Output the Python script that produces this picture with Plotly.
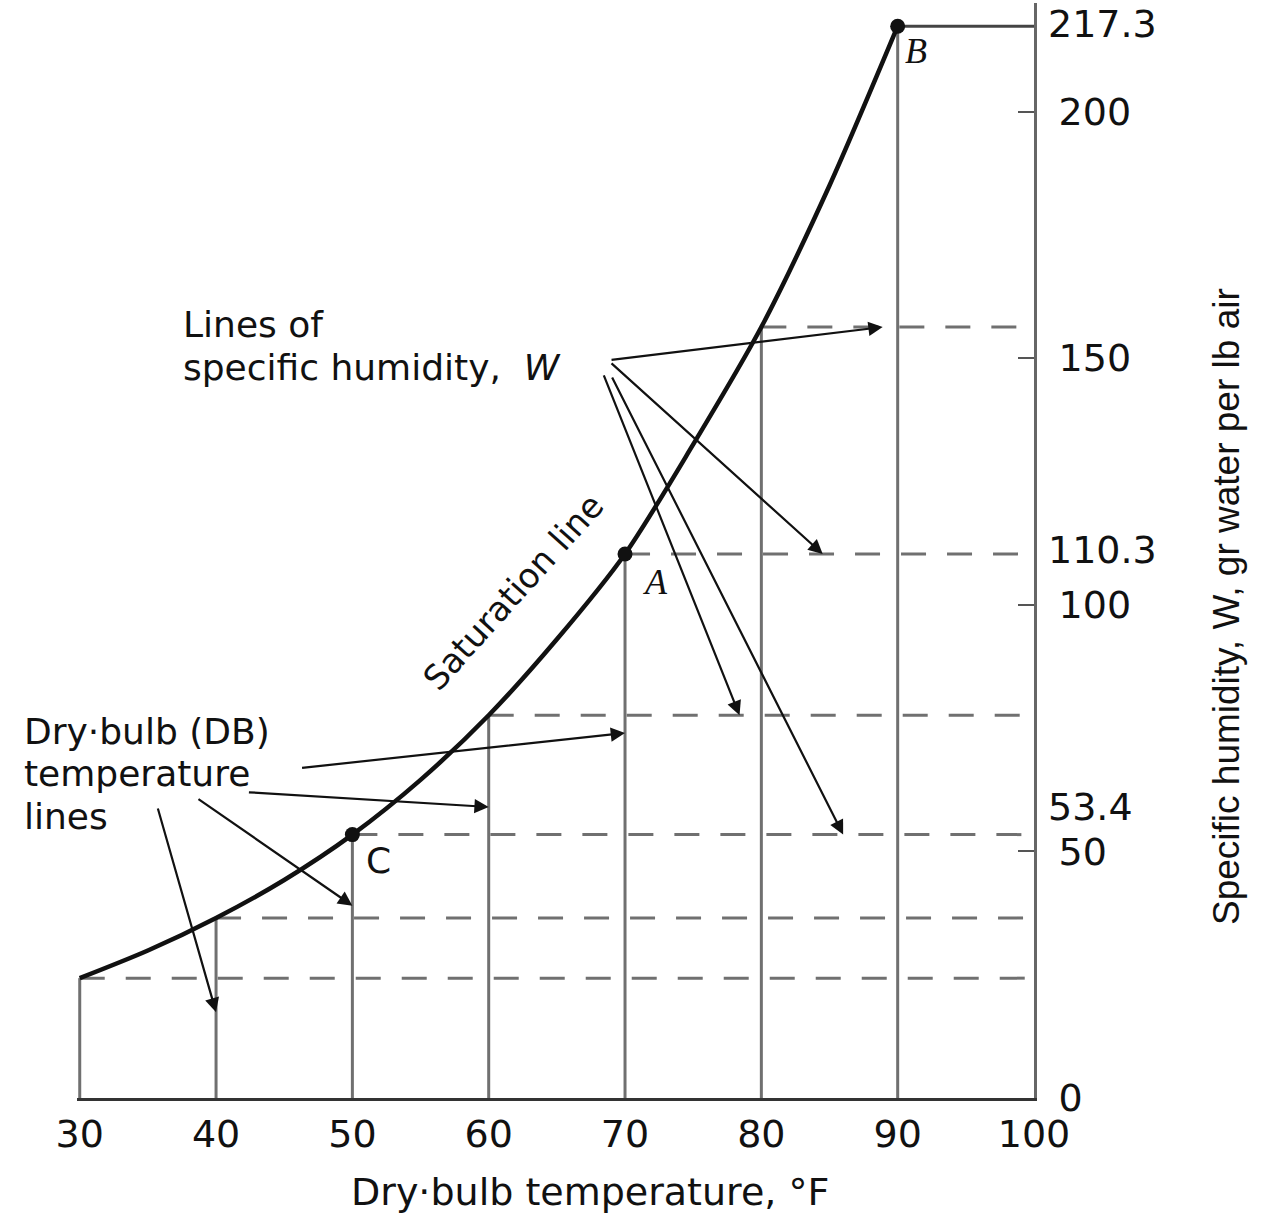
import plotly.graph_objects as go

# ---------------- data ----------------
temps_curve = [30, 35, 40, 45, 50, 55, 60, 65, 70, 75, 80, 85, 90]
w_curve = [24.3, 29.9, 36.5, 44.2, 53.4, 64.5, 77.6, 93.0, 110.3, 132.5, 156.3, 185.0, 217.3]

db_temps = [30, 40, 50, 60, 70, 80, 90]
db_w = [24.3, 36.5, 53.4, 77.6, 110.3, 156.3, 217.3]

point_names = ["C", "A", "B"]
point_temps = [50, 70, 90]
point_w = [53.4, 110.3, 217.3]

x_ticks = [30, 40, 50, 60, 70, 80, 90, 100]
y_ticks = [0, 50, 100, 150, 200]
x_max = 100

# ---------------- styles ----------------
FONT = "DejaVu Sans"
TITLE_FONT = "Liberation Sans, Arial, sans-serif"
SERIF = "Liberation Serif, DejaVu Serif, serif"
INK = "#111111"
GRID = "#707070"

fig = go.Figure()

# vertical dry-bulb lines (from 0 up to saturation)
vx, vy = [], []
for t, w in zip(db_temps, db_w):
    vx += [t, t, None]
    vy += [0, w, None]
fig.add_trace(go.Scatter(x=vx, y=vy, mode="lines",
                         line=dict(color=GRID, width=3), hoverinfo="skip", showlegend=False))

# dashed specific-humidity lines
hx, hy = [], []
for t, w in zip(db_temps[:-1], db_w[:-1]):
    hx += [t, x_max, None]
    hy += [w, w, None]
fig.add_trace(go.Scatter(x=hx, y=hy, mode="lines",
                         line=dict(color=GRID, width=3, dash="25px,21px"),
                         hoverinfo="skip", showlegend=False))

# solid line at B
fig.add_trace(go.Scatter(x=[db_temps[-1], x_max], y=[db_w[-1], db_w[-1]], mode="lines",
                         line=dict(color="#444444", width=3), hoverinfo="skip", showlegend=False))

# saturation curve
fig.add_trace(go.Scatter(x=temps_curve, y=w_curve, mode="lines",
                         line=dict(color=INK, width=4.5, shape="spline", smoothing=0.8),
                         hoverinfo="skip", showlegend=False))

# state points
fig.add_trace(go.Scatter(x=point_temps, y=point_w, mode="markers",
                         marker=dict(color=INK, size=15), cliponaxis=False,
                         hoverinfo="skip", showlegend=False))

ann = []

# point labels
label_fonts = [FONT, SERIF, SERIF]
label_style = ["normal", "italic", "italic"]
shifts = [(26, -26), (30, -28), (18, -25)]
for name, t, w, fam, sty, (dx, dy) in zip(point_names, point_temps, point_w,
                                           label_fonts, label_style, shifts):
    ann.append(dict(x=t, y=w, xref="x", yref="y", text=name, showarrow=False,
                    xshift=dx, yshift=dy,
                    font=dict(family=fam, size=36, color=INK, style=sty)))

# right-side value labels for key points
for w, anchor, ys in zip(point_w, ["bottom", "middle", "middle"], [4, 4, 2]):
    ann.append(dict(x=1, y=w, xref="paper", yref="y", text=f"{w}", showarrow=False,
                    xanchor="left", yanchor=anchor, xshift=12, yshift=ys,
                    font=dict(family=FONT, size=38, color=INK)))

# "Lines of specific humidity, W"
ann.append(dict(x=37.4, y=156.9, xref="x", yref="y", text="Lines of", showarrow=False,
                xanchor="left", yanchor="middle", font=dict(family=FONT, size=36, color=INK)))
ann.append(dict(x=37.4, y=148.2, xref="x", yref="y",
                text="specific humidity,  <i>W</i>", showarrow=False,
                xanchor="left", yanchor="middle", font=dict(family=FONT, size=36, color=INK)))

arrow = dict(xref="x", yref="y", axref="x", ayref="y", text="", showarrow=True,
             arrowhead=2, arrowsize=1.3, arrowwidth=2.2, arrowcolor=INK, standoff=0)
# arrows to humidity lines
for (tx, ty), hx_, w in zip([(68.9, 149.6), (68.9, 149.2), (68.4, 146.8), (69.0, 146.4)],
                            [88.9, 84.5, 78.4, 86.0],
                            [db_w[5], db_w[4], db_w[3], db_w[2]]):
    ann.append(dict(arrow, x=hx_, y=w, ax=tx, ay=ty))

# "Dry-bulb (DB) temperature lines"  (left of the plot area -> paper x)
for txt, yy in zip(["Dry·bulb (DB)", "temperature", "lines"], [74.4, 65.7, 57.0]):
    ann.append(dict(x=(22 - 77) / 957, y=yy, xref="paper", yref="y", text=txt, showarrow=False,
                    xanchor="left", yanchor="middle", font=dict(family=FONT, size=36, color=INK)))

# arrows to dry-bulb lines
for (tx, ty), t, hy_ in zip([(46.2, 66.9), (42.3, 62.0), (38.6, 60.8), (35.7, 59.0)],
                            [db_temps[4], db_temps[3], db_temps[2], db_temps[1]],
                            [74.0, 59.0, 39.0, 17.4]):
    ann.append(dict(arrow, x=t, y=hy_, ax=tx, ay=ty))

# saturation line label
ann.append(dict(x=61.8, y=102.5, xref="x", yref="y", text="Saturation line", showarrow=False,
                textangle=-48, font=dict(family=FONT, size=34, color=INK)))

# axis titles
ann.append(dict(x=(590 - 77) / 957, y=0, xref="paper", yref="paper",
                text="Dry·bulb temperature, °F", showarrow=False,
                xanchor="center", yanchor="bottom", yshift=-118,
                font=dict(family=FONT, size=38, color=INK)))
ann.append(dict(x=1, y=(1098 - 607) / 1095, xref="paper", yref="paper",
                text="Specific humidity, W, gr water per lb air", showarrow=False,
                xanchor="center", yanchor="middle", xshift=192, textangle=-90,
                font=dict(family=TITLE_FONT, size=37, color=INK)))

fig.update_layout(
    template="none",
    width=1271, height=1217,
    margin=dict(l=77, r=237, t=3, b=119),
    paper_bgcolor="white", plot_bgcolor="white",
    font=dict(family=FONT, color=INK),
    showlegend=False,
    annotations=ann,
    xaxis=dict(range=[29.8, x_max], tickvals=x_ticks, ticks="", showgrid=False,
               zeroline=False, showline=True, linecolor="#333333", linewidth=3,
               tickfont=dict(family=FONT, size=38, color=INK), ticklabelstandoff=0),
    yaxis=dict(range=[0, 222], side="right", tickvals=y_ticks, ticks="inside",
               ticklen=16, tickwidth=2, tickcolor="#555555", showgrid=False,
               zeroline=False, showline=True, linecolor="#666666", linewidth=3,
               tickfont=dict(family=FONT, size=38, color=INK), ticklabelstandoff=14),
)

fig.write_html("out.html", config={"displayModeBar": False},
               post_script="document.body.style.margin='0';document.body.style.overflow='hidden';")
